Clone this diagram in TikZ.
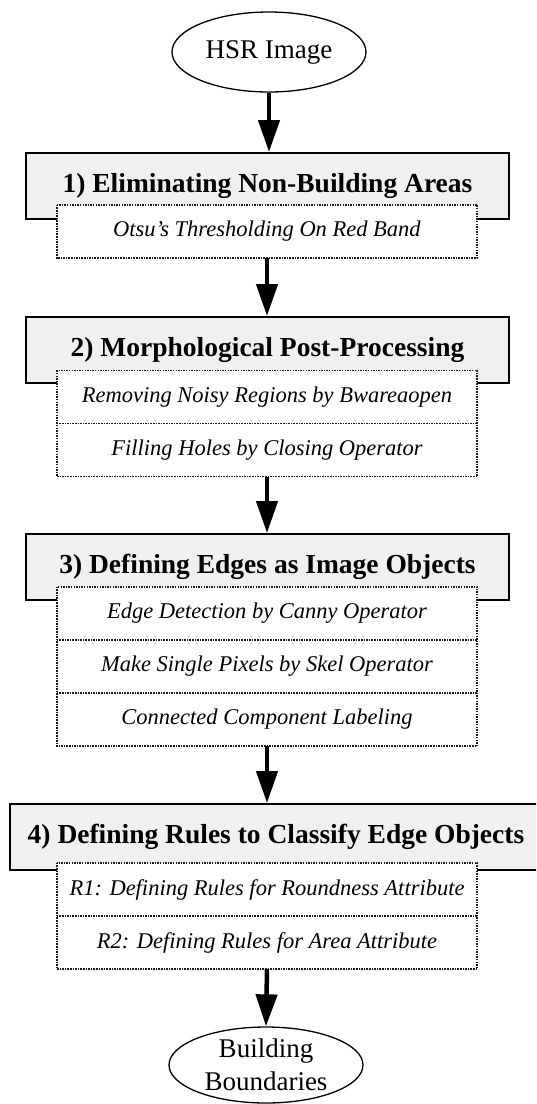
\documentclass[tikz,border=0pt]{standalone}
\usepackage{fontspec}
\setmainfont{Liberation Serif}
\usetikzlibrary{shapes.geometric,arrows.meta}
\definecolor{boxgray}{HTML}{F0F0F0}
\definecolor{dotcol}{HTML}{1A1A1A}
\begin{document}
\begin{tikzpicture}[x=1pt,y=-1pt,
  mainbox/.style={draw=black,line width=2pt,fill=boxgray,minimum height=66pt,inner sep=0pt,
    font=\fontsize{27.5}{32}\selectfont\bfseries},
  subbox/.style={fill=white,minimum width=420pt,minimum height=53pt,inner sep=0pt,
    font=\fontsize{22.5}{27}\selectfont\itshape},
  dotline/.style={draw=dotcol,line width=1.5pt,dash pattern=on 1.5pt off 1.1pt},
  term/.style={ellipse,draw=black,line width=1.3pt,inner sep=0pt,align=center,
    font=\fontsize{27}{33}\selectfont},
  flow/.style={line width=4.5pt,-{Triangle[width=21pt,length=32pt]}}
]
\clip (0,0) rectangle (536,1104);
\fill[white] (0,0) rectangle (536,1104);

% start
\node[term,minimum width=194pt,minimum height=80pt] (start) at (269,52) {HSR Image};

% step 1
\node[mainbox,minimum width=483pt] (b1) at (267.5,186) {1) Eliminating Non-Building Areas};
\node[subbox] (r11) at (267,231.5) {Otsu’s Thresholding On Red Band};
\draw[dotline] (r11.north west) rectangle (r11.south east);

% step 2
\node[mainbox,minimum width=483pt] (b2) at (267.5,350) {2) Morphological Post-Processing};
\node[subbox] (r21) at (267,397) {Removing Noisy Regions by Bwareaopen};
\node[subbox] (r22) at (267,450) {Filling Holes by Closing Operator};
\draw[dotline] (r21.north west) rectangle (r22.south east);
\draw[dotline] (r21.south west) -- (r21.south east);

% step 3
\node[mainbox,minimum width=483pt] (b3) at (267.5,567) {3) Defining Edges as Image Objects};
\node[subbox] (r31) at (267,613.5) {Edge Detection by Canny Operator};
\node[subbox] (r32) at (267,666.5) {Make Single Pixels by Skel Operator};
\node[subbox] (r33) at (267,719.5) {Connected Component Labeling};
\draw[dotline] (r31.north west) rectangle (r33.south east);
\draw[dotline] (r31.south west) -- (r31.south east);
\draw[dotline] (r32.south west) -- (r32.south east);

% step 4
\node[mainbox,minimum width=532pt] (b4) at (276,837) {4) Defining Rules to Classify Edge Objects};
\node[subbox] (r41) at (267,889.5) {R1: Defining Rules for Roundness Attribute};
\node[subbox] (r42) at (267,942.5) {R2: Defining Rules for Area Attribute};
\draw[dotline] (r41.north west) rectangle (r42.south east);
\draw[dotline] (r41.south west) -- (r41.south east);

% end
\node[term,minimum width=194pt,minimum height=76pt] (stop) at (266,1065) {Building\\Boundaries};

% connectors
\draw[flow] (start.south) -- (start.south |- b1.north);
\draw[flow] (r11.south) -- (r11.south |- b2.north);
\draw[flow] (r22.south) -- (r22.south |- b3.north);
\draw[flow] (r33.south) -- (r33.south |- b4.north);
\draw[flow] (r42.south) -- (stop.north);
\end{tikzpicture}
\end{document}
